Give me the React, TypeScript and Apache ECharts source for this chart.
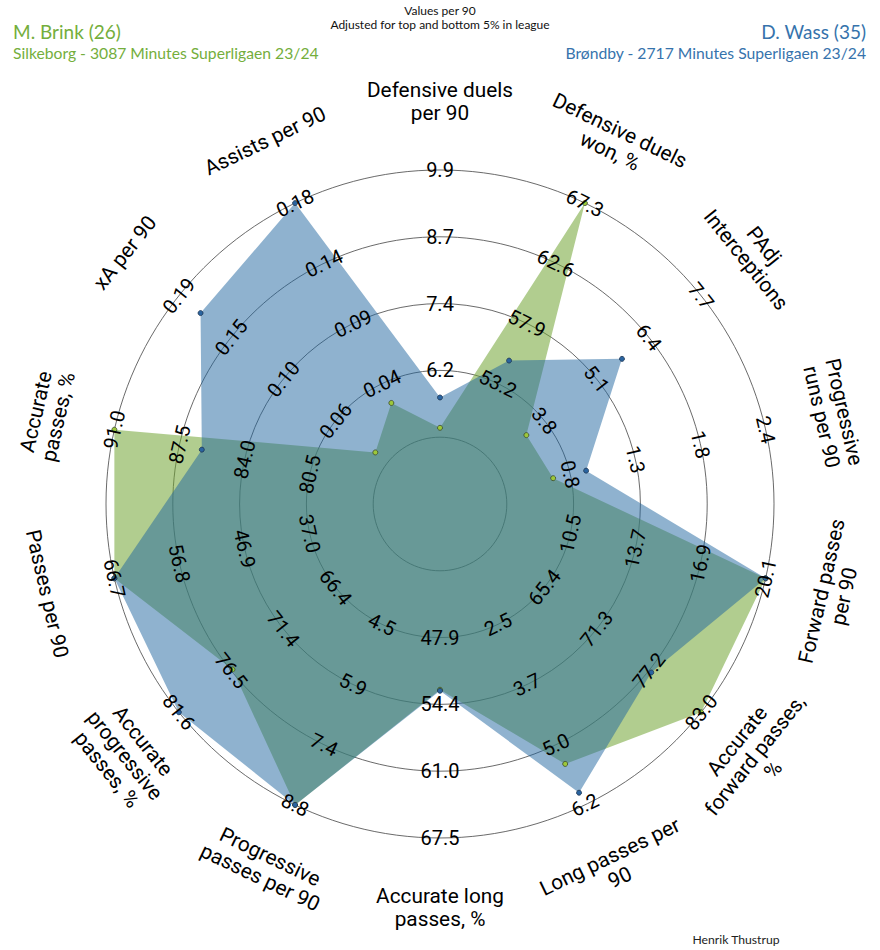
import React, { useEffect, useRef } from "react";
import * as echarts from "echarts";

// Parameters, listed clockwise from the top of the radar
const params = [
  "Defensive duels\nper 90",
  "Defensive duels\nwon, %",
  "PAdj\nInterceptions",
  "Progressive\nruns per 90",
  "Forward passes\nper 90",
  "Accurate\nforward passes,\n%",
  "Long passes per\n90",
  "Accurate long\npasses, %",
  "Progressive\npasses per 90",
  "Accurate\nprogressive\npasses, %",
  "Passes per 90",
  "Accurate\npasses, %",
  "xA per 90",
  "Assists per 90",
];

// Ring labels per parameter (rings 2..5, outermost last)
const tickLabels = [
  ["6.2", "7.4", "8.7", "9.9"],
  ["53.2", "57.9", "62.6", "67.3"],
  ["3.8", "5.1", "6.4", "7.7"],
  ["0.8", "1.3", "1.8", "2.4"],
  ["10.5", "13.7", "16.9", "20.1"],
  ["65.4", "71.3", "77.2", "83.0"],
  ["2.5", "3.7", "5.0", "6.2"],
  ["47.9", "54.4", "61.0", "67.5"],
  ["4.5", "5.9", "7.4", "8.8"],
  ["66.4", "71.4", "76.5", "81.6"],
  ["37.0", "46.9", "56.8", "66.7"],
  ["80.5", "84.0", "87.5", "91.0"],
  ["0.06", "0.10", "0.15", "0.19"],
  ["0.04", "0.09", "0.14", "0.18"],
];

// M. Brink (Silkeborg)
const brinkValues = [5.14, 67.3, 3.35, 0.66, 20.1, 83.0, 5.36, 53.0, 8.8, 76.4, 66.7, 91.0, 0.027, 0.025];
// D. Wass (Brøndby)
const wassValues = [5.7, 55.0, 5.73, 0.93, 20.1, 77.4, 5.95, 53.1, 8.8, 81.6, 66.7, 86.3, 0.172, 0.18];

const brinkName = "M. Brink (26)";
const brinkInfo = "Silkeborg - 3087 Minutes Superligaen 23/24";
const wassName = "D. Wass (35)";
const wassInfo = "Brøndby - 2717 Minutes Superligaen 23/24";
const headerLine1 = "Values per 90";
const headerLine2 = "Adjusted for top and bottom 5% in league";
const credit = "Henrik Thustrup";

const GREEN = "#71A433";
const GREEN_TEXT = "#74AE3C";
const BLUE = "#1F659F";
const BLUE_TEXT = "#3673AC";

const CX = 440;
const CY = 504;
const R = 334;
const LABEL_R = 403;
const RINGS = 5;

const N = params.length;
// ECharts places radar indicators counter-clockwise; reorder so they run clockwise
const order = [0, ...Array.from({ length: N - 1 }, (_, k) => N - 1 - k)];

function axisAngle(i: number) {
  return 90 - (i * 360) / N;
}

// Keep labels tangential and readable: tops point outward in the upper half
function textRotation(deg: number) {
  let a = deg;
  while (a > 180) a -= 360;
  while (a <= -180) a += 360;
  const r = a > 0 && a < 180 ? a - 90 : a + 90;
  return (r * Math.PI) / 180;
}

// Inner circle is the first tick minus one step; the centre one step further
function scale(i: number) {
  const lo = parseFloat(tickLabels[i][0]);
  const hi = parseFloat(tickLabels[i][3]);
  const step = (hi - lo) / 3;
  return { min: lo - 2 * step, max: hi };
}

function textEl(text: string, x: number, y: number, opts: any) {
  return {
    type: "text",
    x,
    y,
    rotation: opts.rotation || 0,
    z: 100,
    silent: true,
    style: {
      text,
      fill: opts.fill || "#000",
      fontSize: opts.fontSize,
      fontFamily: opts.fontFamily || "Roboto",
      lineHeight: opts.lineHeight,
      align: opts.align || "center",
      verticalAlign: opts.verticalAlign || "middle",
      textAlign: opts.align || "center",
      textVerticalAlign: opts.verticalAlign || "middle",
    },
  };
}

export default function App() {
  const ref = useRef<HTMLDivElement>(null);

  useEffect(() => {
    if (!ref.current) return;
    const chart = echarts.init(ref.current, undefined, { renderer: "svg" });

    const indicator = order.map((i) => ({ name: params[i], ...scale(i) }));
    const brink = order.map((i) => brinkValues[i]);
    const wass = order.map((i) => wassValues[i]);

    const graphics: any[] = [];
    for (let i = 0; i < N; i++) {
      const deg = axisAngle(i);
      const rad = (deg * Math.PI) / 180;
      const rot = textRotation(deg);
      tickLabels[i].forEach((t, k) => {
        const r = (R * (k + 2)) / RINGS;
        graphics.push(
          textEl(t, CX + r * Math.cos(rad), CY - r * Math.sin(rad), {
            rotation: rot,
            fontSize: 20,
          })
        );
      });
      graphics.push(
        textEl(params[i], CX + LABEL_R * Math.cos(rad), CY - LABEL_R * Math.sin(rad), {
          rotation: rot,
          fontSize: 20.8,
          lineHeight: 23,
        })
      );
    }

    graphics.push(textEl(brinkName, 13, 31, { fontSize: 19, fontFamily: "Lato", fill: GREEN_TEXT, align: "left" }));
    graphics.push(textEl(brinkInfo, 13, 53, { fontSize: 15.7, fontFamily: "Lato", fill: GREEN_TEXT, align: "left" }));
    graphics.push(textEl(wassName, 866, 31, { fontSize: 19, fontFamily: "Lato", fill: BLUE_TEXT, align: "right" }));
    graphics.push(textEl(wassInfo, 866, 53, { fontSize: 15.7, fontFamily: "Lato", fill: BLUE_TEXT, align: "right" }));
    graphics.push(textEl(headerLine1, 440, 10.5, { fontSize: 12, fontFamily: "Lato", fill: "#111" }));
    graphics.push(textEl(headerLine2, 440, 24, { fontSize: 12, fontFamily: "Lato", fill: "#111" }));
    graphics.push(textEl(credit, 736, 939, { fontSize: 12.2, fontFamily: "Lato", fill: "#222" }));

    const areaSeries = (name: string, values: number[], color: string, opacity: number) => ({
      type: "radar",
      name,
      symbol: "none",
      lineStyle: { width: 0, opacity: 0 },
      areaStyle: { color, opacity },
      data: [{ value: values, name }],
    });
    const markerSeries = (name: string, values: number[], fill: string, edge: string) => ({
      type: "radar",
      name: name + " markers",
      symbol: "circle",
      symbolSize: 5,
      z: 5,
      lineStyle: { width: 0, opacity: 0 },
      itemStyle: { color: fill, borderColor: edge, borderWidth: 0.8 },
      data: [{ value: values, name }],
    });

    chart.setOption({
      animation: false,
      backgroundColor: "#fff",
      radar: {
        center: [CX, CY],
        radius: R,
        startAngle: 90,
        shape: "circle",
        splitNumber: RINGS,
        indicator,
        axisName: { show: false },
        axisLine: { show: false },
        axisTick: { show: false },
        axisLabel: { show: false },
        splitArea: { show: false },
        splitLine: { lineStyle: { color: "#444", width: 0.8 } },
      },
      series: [
        areaSeries(brinkName, brink, GREEN, 0.55),
        areaSeries(wassName, wass, BLUE, 0.5),
        markerSeries(brinkName, brink, "#9DC83A", "#3b4a2a"),
        markerSeries(wassName, wass, "#2A64A0", "#1c3350"),
      ],
      graphic: { elements: graphics },
    });

    return () => chart.dispose();
  }, []);

  return (
    <div
      ref={ref}
      style={{ position: "absolute", left: 0, top: 0, width: 880, height: 950 }}
    />
  );
}
